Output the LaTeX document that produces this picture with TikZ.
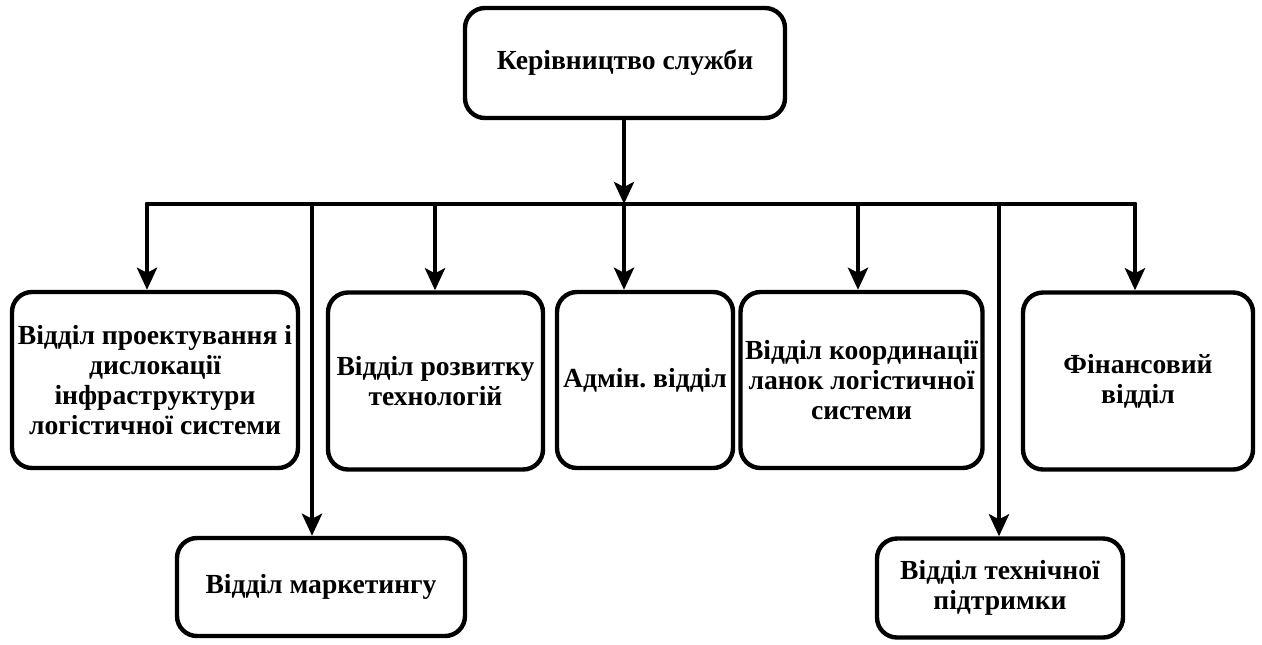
\documentclass[tikz,border=0pt]{standalone}
\usepackage{fontspec}
\setmainfont{Liberation Serif}
\usetikzlibrary{arrows.meta}
\frenchspacing

\begin{document}
\begin{tikzpicture}[x=0.5pt,y=-0.5pt,>={Stealth[length=11pt,width=10pt,inset=2.5pt]},line width=2.2pt,line cap=round,
  unit/.style={draw,rounded corners=10pt,align=center,inner sep=0pt,font=\bfseries\fontsize{13.8}{15}\selectfont}]
\useasboundingbox (0,0) rectangle (1262,644);
\node[unit,minimum width=160pt,minimum height=55pt] (top) at (625,63) {Керівництво служби};
\node[unit,minimum width=143pt,minimum height=88pt] (d1) at (155,380) {Відділ проектування і\\дислокації\\інфраструктури\\логістичної системи};
\node[unit,minimum width=107.5pt,minimum height=88.5pt] (d2) at (435.5,381) {Відділ розвитку\\технологій};
\node[unit,minimum width=88pt,minimum height=88pt] (d3) at (645,380) {Адмін. відділ};
\node[unit,minimum width=121pt,minimum height=88pt] (d4) at (861.5,380) {Відділ координації\\ланок логістичної\\системи};
\node[unit,minimum width=115pt,minimum height=88.5pt] (d5) at (1138,381) {Фінансовий\\відділ};
\node[unit,minimum width=144pt,minimum height=49pt] (mk) at (321,587) {Відділ маркетингу};
\node[unit,minimum width=123pt,minimum height=49.5pt] (ts) at (1000,588) {Відділ технічної\\підтримки};
% taps on the bus
\coordinate (t1) at (147,204);
\coordinate (t2) at (312,204);
\coordinate (t3) at (435,204);
\coordinate (t4) at (624,204);
\coordinate (t5) at (858,204);
\coordinate (t6) at (999,204);
\coordinate (t7) at (1135,204);
\draw (t1) -- (t7);
\draw[->] (top.south -| t4) -- (t4);
\draw[->] (t1) -- (t1 |- d1.north);
\draw[->] (t2) -- (t2 |- mk.north);
\draw[->] (t3) -- (t3 |- d2.north);
\draw[->] (t4) -- (t4 |- d3.north);
\draw[->] (t5) -- (t5 |- d4.north);
\draw[->] (t6) -- (t6 |- ts.north);
\draw[->] (t7) -- (t7 |- d5.north);
\end{tikzpicture}
\end{document}
